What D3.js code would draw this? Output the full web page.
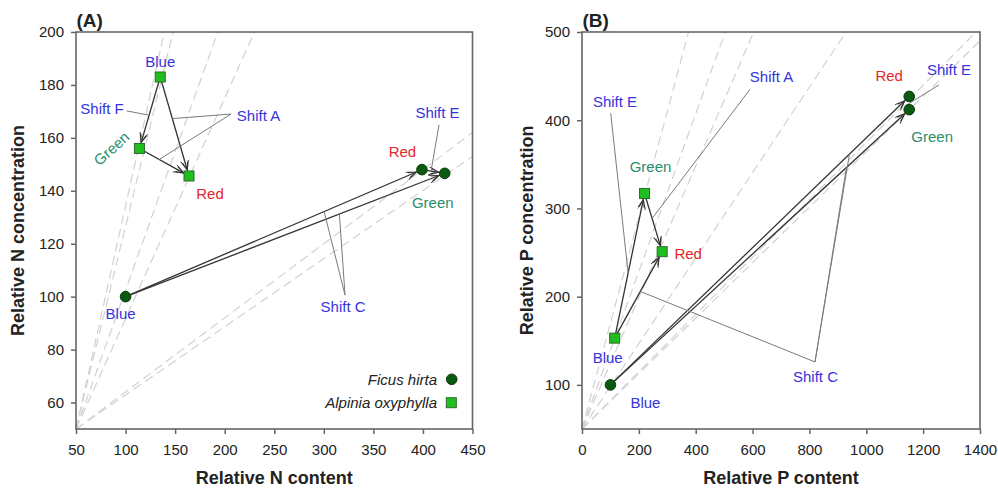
<!DOCTYPE html>
<html><head><meta charset="utf-8">
<script src="https://cdn.jsdelivr.net/npm/d3@7"></script>
<style>
body{margin:0;background:#fff}
svg{display:block}
text{font-family:Arial,'Liberation Sans',sans-serif}
</style>
</head><body>
<svg id="chart" width="998" height="490"></svg>
<script>
// ---------------- DATA ----------------
const conditions = ["Blue", "Red", "Green"];

// Panel A – nitrogen
const ficusNContent = [100, 399, 422];
const ficusNConc    = [100, 148, 146.6];
const alpiniaNContent = [135, 164, 114];
const alpiniaNConc    = [183, 145.6, 156];

// Panel B – phosphorus
const ficusPContent = [100, 1151, 1151];
const ficusPConc    = [100, 427, 412];
const alpiniaPContent = [115, 282, 220];
const alpiniaPConc    = [153, 251, 317];

// tick labels
const xTicksA = [50, 100, 150, 200, 250, 300, 350, 400, 450];
const yTicksA = [60, 80, 100, 120, 140, 160, 180, 200];
const xTicksB = [0, 200, 400, 600, 800, 1000, 1200, 1400];
const yTicksB = [100, 200, 300, 400, 500];

// isolines (from lower-left corner): x where they hit the top, y where they hit the right side
const isoTopA = [139, 148, 193, 230];
const isoRightA = [162, 153];
const isoTopB = [375, 504, 604, 929, 1386];
const isoRightB = [490];

// vectors: [species, fromIndex, toIndex]  (0 Blue, 1 Red, 2 Green)
const arrowsA = [["alp",0,2],["alp",0,1],["alp",2,1],["fic",0,1],["fic",0,2],["fic",1,2]];
const arrowsB = [["alp",0,2],["alp",2,1],["alp",0,1],["fic",0,1],["fic",0,2]];

// ---------------- STYLE ----------------
const COL = {
  blue: "#3434dc", green: "#2b8d6c", red: "#e3262b",
  alpFill: "#1fbf1f", alpStroke: "#2d6a2d",
  ficFill: "#0c5a12", ficStroke: "#083808",
  arrow: "#333", leader: "#7a7a7a", iso: "#d2d2d2", frame: "#666"
};
const labelColor = {Blue: COL.blue, Red: COL.red, Green: COL.green};

const svg = d3.select("#chart");
svg.append("rect").attr("width", 998).attr("height", 490).attr("fill", "#fff");

const defs = svg.append("defs");
defs.append("marker").attr("id", "ah")
  .attr("markerUnits", "userSpaceOnUse")
  .attr("markerWidth", 12).attr("markerHeight", 10)
  .attr("refX", 11).attr("refY", 4).attr("orient", "auto")
  .append("path").attr("d", "M1,0 L11,4 L1,8 M3,1.5 L11,4 L3,6.5")
  .attr("fill", "none").attr("stroke", COL.arrow).attr("stroke-width", 1);

function drawPanel(p) {
  const g = svg.append("g");
  const x = d3.scaleLinear().domain(p.xDomain).range([p.left, p.right]);
  const y = d3.scaleLinear().domain(p.yDomain).range([p.bottom, p.top]);
  const pts = {
    fic: p.ficX.map((v, i) => [x(v), y(p.ficY[i])]),
    alp: p.alpX.map((v, i) => [x(v), y(p.alpY[i])])
  };

  // isolines
  const ends = p.isoTop.map(v => [v, p.yDomain[1]]).concat(p.isoRight.map(v => [p.xDomain[1], v]));
  g.selectAll(".iso").data(ends).join("line")
    .attr("x1", x(p.xDomain[0])).attr("y1", y(p.yDomain[0]))
    .attr("x2", d => x(d[0])).attr("y2", d => y(d[1]))
    .attr("stroke", COL.iso).attr("stroke-width", 1.2).attr("stroke-dasharray", "9,5");

  // axes
  const ax = g.append("g").attr("transform", `translate(0,${p.bottom})`)
    .call(d3.axisBottom(x).tickValues(p.xTicks).tickSize(5).tickSizeOuter(0).tickPadding(10).tickFormat(d3.format("d")));
  const ay = g.append("g").attr("transform", `translate(${p.left},0)`)
    .call(d3.axisLeft(y).tickValues(p.yTicks).tickSize(5).tickSizeOuter(0).tickPadding(7).tickFormat(d3.format("d")));
  [ax, ay].forEach(a => {
    a.select(".domain").remove();
    a.selectAll(".tick line").attr("stroke", COL.frame).attr("stroke-width", 1.5);
    a.selectAll(".tick text").attr("fill", "#222").style("font-size", "15px")
      .style("font-family", "Arial,'Liberation Sans',sans-serif");
  });

  // frame
  g.append("rect").attr("x", p.left).attr("y", p.top)
    .attr("width", p.right - p.left).attr("height", p.bottom - p.top)
    .attr("fill", "none").attr("stroke", COL.frame).attr("stroke-width", 1.6);

  // arrows
  const arrowPix = p.arrows.map(([s, a, b]) => {
    const p0 = pts[s][a], p1 = pts[s][b];
    const dx = p1[0] - p0[0], dy = p1[1] - p0[1], L = Math.hypot(dx, dy);
    const sh = 6;
    return [p0, [p1[0] - dx / L * sh, p1[1] - dy / L * sh], p1];
  });
  g.selectAll(".arr").data(arrowPix).join("line")
    .attr("x1", d => d[0][0]).attr("y1", d => d[0][1])
    .attr("x2", d => d[1][0]).attr("y2", d => d[1][1])
    .attr("stroke", COL.arrow).attr("stroke-width", 1.3)
    .attr("marker-end", "url(#ah)");

  // shift annotations with leader lines
  p.shifts.forEach(s => {
    const sx = x(s.from[0]), sy = y(s.from[1]);
    s.leaders.forEach(l => {
      let tx, ty;
      if (l.to) { tx = x(l.to[0]); ty = y(l.to[1]); }
      else {
        const A = arrowPix[l.arrow];
        tx = A[0][0] + (A[2][0] - A[0][0]) * l.t;
        ty = A[0][1] + (A[2][1] - A[0][1]) * l.t;
      }
      g.append("line").attr("x1", sx).attr("y1", sy).attr("x2", tx).attr("y2", ty)
        .attr("stroke", COL.leader).attr("stroke-width", 1);
    });
    g.append("text").attr("x", x(s.text[0])).attr("y", y(s.text[1])).attr("dy", "0.36em")
      .attr("text-anchor", "middle").attr("fill", COL.blue).style("font-size", "15px").text(s.label);
  });

  // points
  g.selectAll(".fic").data(pts.fic).join("circle")
    .attr("cx", d => d[0]).attr("cy", d => d[1]).attr("r", 5.3)
    .attr("fill", COL.ficFill).attr("stroke", COL.ficStroke).attr("stroke-width", 1);
  g.selectAll(".alp").data(pts.alp).join("rect")
    .attr("x", d => d[0] - 5).attr("y", d => d[1] - 5).attr("width", 10).attr("height", 10)
    .attr("fill", COL.alpFill).attr("stroke", COL.alpStroke).attr("stroke-width", 1);

  // point labels
  p.labels.forEach(l => {
    const c = pts[l.s][l.i];
    const tx = c[0] + l.dx, ty = c[1] + l.dy;
    g.append("text").attr("x", tx).attr("y", ty).attr("dy", "0.36em")
      .attr("text-anchor", "middle")
      .attr("transform", l.rot ? `rotate(${l.rot},${tx},${ty})` : null)
      .attr("fill", labelColor[conditions[l.i]]).style("font-size", "15px")
      .text(conditions[l.i]);
  });

  // axis titles
  g.append("text").attr("x", (p.left + p.right) / 2).attr("y", 484)
    .attr("text-anchor", "middle").attr("fill", "#222")
    .style("font-size", "18px").style("font-weight", "bold").text(p.xTitle);
  const cy = (p.top + p.bottom) / 2;
  g.append("text").attr("transform", `translate(${p.yTitleX},${cy}) rotate(-90)`)
    .attr("text-anchor", "middle").attr("dy", "0.36em").attr("fill", "#222")
    .style("font-size", "18px").style("font-weight", "bold").text(p.yTitle);
  g.append("text").attr("x", p.left + 0.5).attr("y", 27).attr("fill", "#222")
    .style("font-size", "19px").style("font-weight", "bold").text(p.tag);

  return {g, x, y};
}

// ---------- Panel A ----------
const A = drawPanel({
  left: 76, right: 472.5, top: 32, bottom: 429,
  xDomain: [50, 450], yDomain: [50, 200],
  xTicks: xTicksA, yTicks: yTicksA,
  ficX: ficusNContent, ficY: ficusNConc, alpX: alpiniaNContent, alpY: alpiniaNConc,
  isoTop: isoTopA, isoRight: isoRightA, arrows: arrowsA,
  xTitle: "Relative N content", yTitle: "Relative N concentration", yTitleX: 18, tag: "(A)",
  shifts: [
    {label: "Shift F", text: [76.2, 171.2], from: [101.1, 170.2], leaders: [{arrow: 0, t: 0.535}]},
    {label: "Shift A", text: [234.1, 168.6], from: [206.4, 169], leaders: [{arrow: 1, t: 0.42}, {arrow: 2, t: 0.4}]},
    {label: "Shift E", text: [414.7, 169.4], from: [416.2, 164.9], leaders: [{arrow: 5, t: 0.4}]},
    {label: "Shift C", text: [319.4, 96.2], from: [321.4, 100.6], leaders: [{arrow: 3, t: 0.67}, {arrow: 4, t: 0.67}]}
  ],
  labels: [
    {s: "alp", i: 0, dx: 0, dy: -15.5},
    {s: "alp", i: 1, dx: 21, dy: 18},
    {s: "alp", i: 2, dx: -28, dy: 0, rot: -42},
    {s: "fic", i: 0, dx: -5, dy: 17},
    {s: "fic", i: 1, dx: -19.5, dy: -18.3},
    {s: "fic", i: 2, dx: -12, dy: 29}
  ]
});

// legend (panel A)
const legend = A.g.append("g");
const legItems = [["Ficus hirta", "fic"], ["Alpinia oxyphylla", "alp"]];
legItems.forEach((it, k) => {
  const yy = 379.3 + k * 23.4;
  legend.append("text").attr("x", 437).attr("y", yy).attr("dy", "0.36em")
    .attr("text-anchor", "end").attr("fill", "#222").style("font-size", "15px")
    .style("font-style", "italic").text(it[0]);
  if (it[1] === "fic") {
    legend.append("circle").attr("cx", 451.7).attr("cy", yy).attr("r", 5.3)
      .attr("fill", COL.ficFill).attr("stroke", COL.ficStroke);
  } else {
    legend.append("rect").attr("x", 446.3).attr("y", yy - 5).attr("width", 10).attr("height", 10)
      .attr("fill", COL.alpFill).attr("stroke", COL.alpStroke);
  }
});

// ---------- Panel B ----------
drawPanel({
  left: 582, right: 980, top: 32, bottom: 429,
  xDomain: [0, 1400], yDomain: [50, 500],
  xTicks: xTicksB, yTicks: yTicksB,
  ficX: ficusPContent, ficY: ficusPConc, alpX: alpiniaPContent, alpY: alpiniaPConc,
  isoTop: isoTopB, isoRight: isoRightB, arrows: arrowsB,
  xTitle: "Relative P content", yTitle: "Relative P concentration", yTitleX: 527, tag: "(B)",
  shifts: [
    {label: "Shift E", text: [116.1, 421], from: [101, 407.9], leaders: [{arrow: 0, t: 0.45}]},
    {label: "Shift A", text: [666.5, 449], from: [591, 435], leaders: [{arrow: 1, t: 0.43}]},
    {label: "Shift C", text: [821.3, 109.3], from: [819.6, 126], leaders: [{arrow: 2, t: 0.54}, {arrow: 3, t: 0.8}, {arrow: 4, t: 0.79}]},
    {label: "Shift E", text: [1291, 457], from: [1255.7, 440], leaders: [{to: [1136, 416.1]}]}
  ],
  labels: [
    {s: "alp", i: 0, dx: -7, dy: 19},
    {s: "alp", i: 1, dx: 26, dy: 2},
    {s: "alp", i: 2, dx: 6, dy: -27},
    {s: "fic", i: 0, dx: 35, dy: 18},
    {s: "fic", i: 1, dx: -20, dy: -21},
    {s: "fic", i: 2, dx: 23, dy: 27}
  ]
});
</script>
</body></html>
